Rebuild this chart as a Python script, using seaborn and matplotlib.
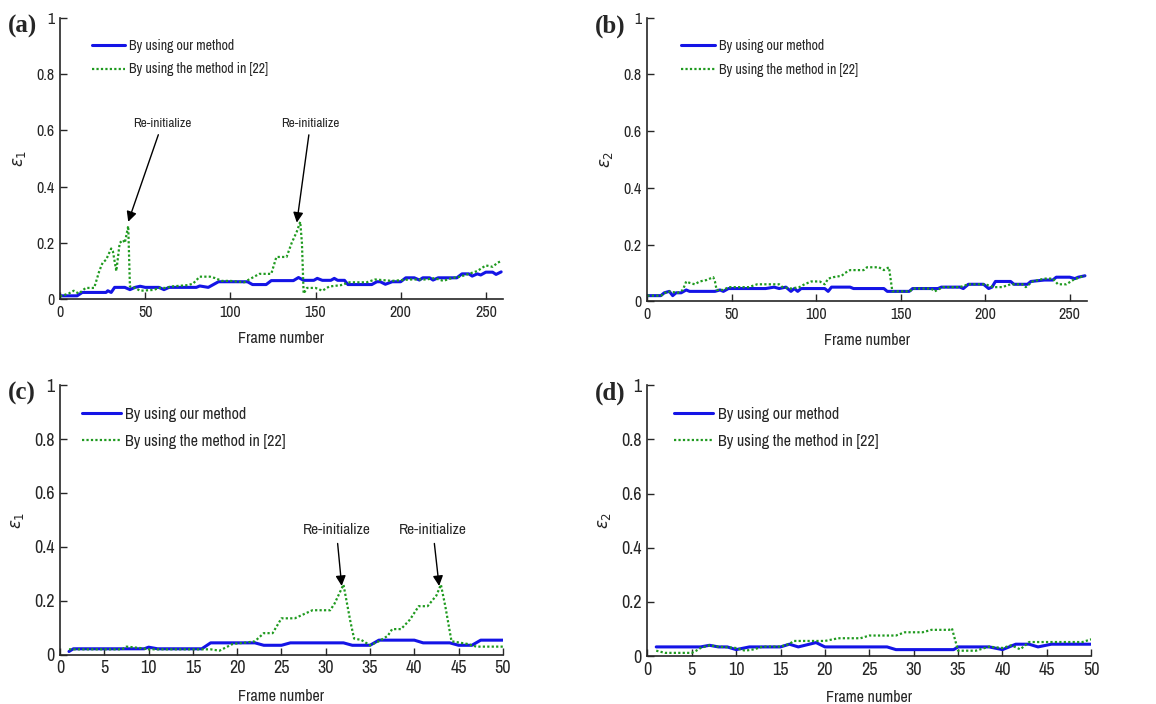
import matplotlib
matplotlib.use('Agg')
import matplotlib.pyplot as plt
import seaborn as sns
from matplotlib import font_manager

# ---- data: polyline vertices ----
# (a) epsilon_1, long sequence
a_our_x = [0, 10, 13, 27, 28, 30, 32, 38, 41, 44, 47, 50, 58, 61, 64, 80, 82, 87, 90, 93, 110, 113,
           121, 124, 137, 140, 143, 149, 151, 154, 159, 161, 163, 167, 169, 183, 186, 188, 191, 195,
           200, 203, 208, 211, 213, 217, 219, 222, 233, 236, 240, 242, 245, 247, 250, 254, 256, 259]
a_our_y = [0.012, 0.012, 0.024, 0.024, 0.03, 0.024, 0.042, 0.042, 0.034, 0.042, 0.046, 0.042, 0.042,
           0.034, 0.042, 0.042, 0.047, 0.042, 0.052, 0.062, 0.062, 0.052, 0.052, 0.066, 0.066, 0.077,
           0.067, 0.067, 0.074, 0.067, 0.067, 0.074, 0.067, 0.067, 0.052, 0.052, 0.062, 0.062, 0.053,
           0.062, 0.062, 0.076, 0.076, 0.068, 0.076, 0.076, 0.068, 0.076, 0.076, 0.09, 0.09, 0.082,
           0.09, 0.086, 0.096, 0.096, 0.088, 0.097]
a_ref_x = [0, 5, 8, 11, 15, 20, 23, 25, 27, 30, 31, 33, 35, 37, 38, 40, 41, 44, 47, 55, 58, 62, 65,
           75, 78, 82, 88, 91, 95, 100, 108, 111, 114, 117, 124, 127, 133, 136, 139, 141, 142, 143,
           145, 150, 154, 158, 165, 170, 180, 185, 195, 205, 215, 220, 225, 230, 235, 240, 245, 250,
           254, 257, 259]
a_ref_y = [0.01, 0.02, 0.03, 0.02, 0.04, 0.04, 0.1, 0.13, 0.14, 0.18, 0.17, 0.1, 0.2, 0.21, 0.2,
           0.26, 0.045, 0.04, 0.03, 0.033, 0.04, 0.04, 0.045, 0.05, 0.055, 0.08, 0.08, 0.075, 0.065,
           0.065, 0.06, 0.07, 0.08, 0.09, 0.09, 0.15, 0.15, 0.2, 0.24, 0.275, 0.2, 0.02, 0.04, 0.04,
           0.03, 0.045, 0.05, 0.06, 0.06, 0.07, 0.065, 0.07, 0.07, 0.075, 0.065, 0.075, 0.08, 0.09,
           0.1, 0.12, 0.115, 0.13, 0.135]

# (b) epsilon_2, long sequence
b_our_x = [0, 8, 10, 13, 15, 17, 20, 23, 25, 40, 43, 45, 48, 70, 75, 78, 82, 85, 87, 89, 91, 105,
           107, 109, 120, 122, 140, 142, 155, 157, 172, 174, 185, 187, 190, 199, 202, 204, 206, 215,
           217, 225, 227, 235, 240, 242, 250, 253, 255, 259]
b_our_y = [0.02, 0.02, 0.03, 0.035, 0.02, 0.03, 0.03, 0.04, 0.035, 0.035, 0.04, 0.035, 0.045,
           0.045, 0.05, 0.045, 0.05, 0.035, 0.045, 0.035, 0.045, 0.045, 0.035, 0.05, 0.05, 0.045,
           0.045, 0.035, 0.035, 0.045, 0.045, 0.05, 0.05, 0.045, 0.06, 0.06, 0.045, 0.05, 0.07, 0.07,
           0.06, 0.06, 0.07, 0.075, 0.075, 0.085, 0.085, 0.08, 0.085, 0.09]
b_ref_x = [0, 8, 12, 18, 21, 23, 25, 28, 31, 35, 39, 40, 41, 45, 48, 60, 65, 78, 80, 85, 90, 93,
           97, 102, 105, 107, 110, 115, 117, 120, 128, 130, 137, 140, 143, 145, 155, 158, 168, 170,
           175, 185, 190, 200, 205, 210, 215, 222, 224, 228, 235, 240, 243, 248, 252, 256, 259]
b_ref_y = [0.02, 0.02, 0.035, 0.03, 0.04, 0.07, 0.065, 0.06, 0.07, 0.075, 0.085, 0.07, 0.04,
           0.04, 0.05, 0.05, 0.06, 0.06, 0.05, 0.045, 0.05, 0.06, 0.07, 0.07, 0.06, 0.08, 0.085,
           0.09, 0.1, 0.11, 0.11, 0.12, 0.12, 0.11, 0.12, 0.035, 0.035, 0.045, 0.045, 0.035, 0.05,
           0.05, 0.06, 0.06, 0.05, 0.05, 0.06, 0.06, 0.05, 0.07, 0.08, 0.08, 0.06, 0.06, 0.075,
           0.085, 0.09]

# (c) epsilon_1, short sequence
c_our_x = [1, 1.5, 9.5, 10, 11, 16, 17, 22, 23, 25, 26, 32, 33, 35, 36, 40, 41, 44, 45, 46.5,
           47.5, 50]
c_our_y = [0.012, 0.022, 0.022, 0.028, 0.022, 0.022, 0.044, 0.044, 0.035, 0.035, 0.044, 0.044,
           0.035, 0.035, 0.054, 0.054, 0.044, 0.044, 0.035, 0.035, 0.054, 0.054]
c_ref_x = [1, 7, 7.5, 9, 10, 17, 18, 19.5, 21, 22, 23, 24, 25, 26.5, 27.5, 28.5, 30.5, 31, 32,
           32.8, 33.2, 34, 35, 36, 37, 37.5, 38.5, 39.5, 40.5, 41.5, 42.5, 43, 43.5, 44.2, 46, 47, 50]
c_ref_y = [0.02, 0.02, 0.03, 0.025, 0.02, 0.02, 0.015, 0.04, 0.045, 0.05, 0.08, 0.08, 0.135,
           0.135, 0.15, 0.165, 0.165, 0.19, 0.26, 0.12, 0.06, 0.055, 0.035, 0.05, 0.07, 0.095, 0.095,
           0.13, 0.18, 0.18, 0.22, 0.26, 0.18, 0.05, 0.04, 0.03, 0.03]

# (d) epsilon_2, short sequence
d_our_x = [1, 6, 7, 8, 9, 10, 11.5, 15, 16, 17, 18.5, 19, 20, 27, 28, 34.5, 35, 38.5, 40, 41.5,
           43, 44, 45.5, 50]
d_our_y = [0.034, 0.034, 0.04, 0.034, 0.034, 0.024, 0.034, 0.034, 0.044, 0.034, 0.046, 0.05,
           0.034, 0.034, 0.024, 0.024, 0.034, 0.034, 0.024, 0.044, 0.044, 0.034, 0.044, 0.044]
d_ref_x = [1, 2, 5, 5.5, 6, 7, 8, 10, 11, 12, 13, 15, 16, 16.5, 20, 21.5, 24, 25, 28, 29, 31,
           32, 34, 34.3, 35, 37, 38.5, 40, 41, 42, 43, 49, 50]
d_ref_y = [0.02, 0.012, 0.012, 0.02, 0.03, 0.04, 0.035, 0.03, 0.02, 0.025, 0.035, 0.035, 0.045,
           0.056, 0.056, 0.066, 0.066, 0.076, 0.076, 0.088, 0.088, 0.097, 0.097, 0.103, 0.02, 0.02,
           0.035, 0.03, 0.04, 0.025, 0.052, 0.052, 0.062]

y_ticks = [0, 0.2, 0.4, 0.6, 0.8, 1]
y_tick_labels = ['0', '0.2', '0.4', '0.6', '0.8', '1']
long_ticks = [0, 50, 100, 150, 200, 250]
short_ticks = [0, 5, 10, 15, 20, 25, 30, 35, 40, 45, 50]
legend_labels = ['By using our method', 'By using the method in [22]']

# (text x, text y, arrow tip x, arrow tip y)
a_notes = [(60, 0.605, 40, 0.275), (147, 0.605, 139, 0.272)]
c_notes = [(31.2, 0.435, 31.8, 0.255), (42.1, 0.435, 42.8, 0.255)]

sns.set_style('ticks')

# MATLAB-style narrow sans: take the first narrow family that is installed
installed = {f.name for f in font_manager.fontManager.ttflist}
narrow = ['Liberation Sans Narrow', 'Arial Narrow', 'Archivo Narrow', 'PT Sans Narrow',
          'Roboto Condensed', 'Pragati Narrow', 'Encode Sans Condensed', 'Fira Sans Condensed',
          'IBM Plex Sans Condensed', 'Open Sans Condensed', 'Liberation Sans']
picked = [n for n in narrow if n in installed][:1]
plt.rcParams['font.family'] = picked + ['DejaVu Sans']
plt.rcParams['mathtext.fontset'] = 'dejavusans'

BLUE = '#1414e6'
GREEN = '#1f9a1f'

fig = plt.figure(figsize=(11.56, 7.04), dpi=100)
boxes = {
    'a': [0.052, 0.575, 0.383, 0.400],
    'b': [0.560, 0.572, 0.380, 0.403],
    'c': [0.052, 0.070, 0.383, 0.383],
    'd': [0.560, 0.068, 0.384, 0.385],
}
# legend anchor (axes fraction) for the left end of the handle / top of the first row
leg_anchor = {'a': (0.072, 0.925), 'b': (0.077, 0.925), 'c': (0.05, 0.92), 'd': (0.061, 0.92)}
panels = {
    'a': (a_our_x, a_our_y, a_ref_x, a_ref_y, 260, long_ticks, r'$\varepsilon_1$', a_notes),
    'b': (b_our_x, b_our_y, b_ref_x, b_ref_y, 260, long_ticks, r'$\varepsilon_2$', []),
    'c': (c_our_x, c_our_y, c_ref_x, c_ref_y, 50, short_ticks, r'$\varepsilon_1$', c_notes),
    'd': (d_our_x, d_our_y, d_ref_x, d_ref_y, 50, short_ticks, r'$\varepsilon_2$', []),
}

for key, (ox, oy, rx, ry, xmax, xt, ylab, notes) in panels.items():
    ax = fig.add_axes(boxes[key])
    big = key in ('c', 'd')
    sns.lineplot(x=ox, y=oy, ax=ax, color=BLUE, lw=2.2, label=legend_labels[0])
    sns.lineplot(x=rx, y=ry, ax=ax, color=GREEN, lw=1.6, linestyle=(0, (1, 1)),
                 label=legend_labels[1])
    ax.set_xlim(0, xmax)
    ax.set_ylim(0, 1)
    ax.set_xticks(xt)
    ax.set_yticks(y_ticks)
    ax.set_yticklabels(y_tick_labels)
    ax.tick_params(direction='in', length=5, labelsize=13 if big else 11.5, width=1, pad=4)
    for s in ('top', 'right'):
        ax.spines[s].set_visible(False)
    for s in ('left', 'bottom'):
        ax.spines[s].set_linewidth(1.2)
    ax.set_xlabel('Frame number', fontsize=11.5, labelpad=9 if big else 8)
    ax.set_ylabel(ylab, fontsize=12, labelpad=6)
    ax.legend(loc='upper left', frameon=False, fontsize=11.5 if big else 10,
              handlelength=2.4, handletextpad=0.3, labelspacing=0.75 if big else 0.7,
              borderaxespad=0, borderpad=0, bbox_to_anchor=leg_anchor[key])
    for tx, ty, px, py in notes:
        ax.annotate('Re-initialize', xy=(px, py), xytext=(tx, ty),
                    ha='center', va='bottom', fontsize=11 if big else 9.5,
                    arrowprops=dict(arrowstyle='-|>', color='k', lw=1,
                                    mutation_scale=15, shrinkA=2, shrinkB=0))
    fig.text(boxes[key][0] - 0.045, boxes[key][1] + boxes[key][3] - 0.012, f'({key})',
             family='Liberation Serif', weight='bold', fontsize=18, va='center')

fig.savefig('out.png', dpi=100)
